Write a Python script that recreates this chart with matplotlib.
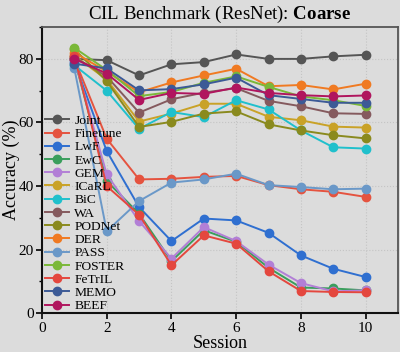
import matplotlib.pyplot as plt
from matplotlib.ticker import MultipleLocator

sessions = [1, 2, 3, 4, 5, 6, 7, 8, 9, 10]
methods = ['Joint', 'Finetune', 'LwF', 'EwC', 'GEM', 'ICaRL', 'BiC', 'WA',
           'PODNet', 'DER', 'PASS', 'FOSTER', 'FeTrIL', 'MEMO', 'BEEF']

joint    = [80.0, 79.6, 74.8, 78.3, 79.0, 81.4, 80.0, 80.0, 80.8, 81.3]
finetune = [80.0, 54.9, 42.1, 42.3, 42.9, 43.2, 40.3, 39.0, 38.2, 36.6]
lwf      = [79.0, 51.0, 33.4, 22.7, 29.8, 29.2, 25.3, 18.2, 14.0, 11.4]
ewc      = [80.0, 41.6, 31.3, 16.4, 26.1, 22.5, 14.3, 8.1, 7.8, 7.2]
gem      = [80.0, 43.7, 29.0, 17.2, 27.1, 22.7, 15.3, 9.5, 6.9, 7.2]
icarl    = [81.0, 73.5, 60.3, 62.8, 65.9, 65.9, 61.8, 60.7, 58.7, 58.4]
bic      = [78.0, 70.0, 58.0, 63.3, 61.7, 67.0, 64.1, 57.5, 52.2, 51.8]
wa       = [80.5, 74.5, 63.1, 67.3, 69.4, 70.8, 66.8, 65.1, 62.9, 62.7]
podnet   = [83.0, 73.0, 58.6, 60.2, 62.8, 63.5, 59.4, 57.5, 56.0, 55.0]
der      = [82.0, 76.0, 69.5, 72.6, 74.8, 76.9, 71.4, 71.8, 70.4, 72.2]
pass_    = [77.0, 25.8, 35.3, 41.1, 42.1, 43.9, 40.3, 39.7, 39.0, 39.2]
foster   = [83.5, 76.5, 68.3, 69.6, 72.5, 74.5, 71.2, 68.2, 67.0, 65.2]
fetril   = [81.0, 40.0, 31.0, 15.1, 24.5, 21.9, 13.2, 7.0, 6.7, 6.6]
memo     = [78.5, 77.0, 70.1, 70.5, 72.0, 74.1, 68.6, 67.4, 66.2, 66.2]
beef     = [80.0, 75.4, 67.1, 69.3, 69.0, 71.0, 69.3, 68.6, 68.2, 68.5]

values = [joint, finetune, lwf, ewc, gem, icarl, bic, wa, podnet, der,
          pass_, foster, fetril, memo, beef]
colors = ['#555555', '#e5533f', '#2f6fd0', '#3a9e5c', '#b27fd6', '#c9a227',
          '#20c0cc', '#855a5e', '#8a8a1e', '#f07a22', '#6a98c8', '#7ab838',
          '#e4473e', '#3c5a96', '#b0155e']

plt.rcParams['font.family'] = ['Liberation Serif', 'DejaVu Serif']
plt.rcParams['mathtext.fontset'] = 'custom'
plt.rcParams['mathtext.rm'] = 'Liberation Serif'
plt.rcParams['mathtext.bf'] = 'Liberation Serif:bold'
bg = '#dcdcdc'

fig, ax = plt.subplots(figsize=(4.0, 3.52), dpi=100)
fig.patch.set_facecolor(bg)
ax.set_facecolor(bg)

for name, vals, c in zip(methods, values, colors):
    ax.plot(sessions, vals, marker='o', markersize=6, linewidth=1.4,
            color=c, label=name)

ax.set_xlim(0, 11)
ax.set_ylim(0, 90)
ax.set_xticks([0, 2, 4, 6, 8, 10])
ax.set_yticks([0, 20, 40, 60, 80])
ax.yaxis.set_minor_locator(MultipleLocator(10))
ax.tick_params(axis='both', direction='out', labelsize=11, width=1.2,
               length=4, pad=2)
ax.tick_params(axis='y', which='minor', direction='out', length=2.5, width=1)
ax.grid(True, which='major', linestyle=':', color='#c4c4c4', linewidth=0.8)

for s in ['left', 'bottom']:
    ax.spines[s].set_color('#111111')
    ax.spines[s].set_linewidth(1.5)
for s in ['top', 'right']:
    ax.spines[s].set_color('#555555')
    ax.spines[s].set_linewidth(1.3)

ax.set_xlabel('Session', fontsize=13, labelpad=0)
ax.set_ylabel('Accuracy (%)', fontsize=13, labelpad=-1)
ax.set_title(r'CIL Benchmark (ResNet): $\mathbf{Coarse}$', fontsize=13.6, pad=6)

ax.legend(loc='lower left', bbox_to_anchor=(-0.015, -0.025), frameon=False,
          fontsize=9.7, labelspacing=0.06, handlelength=1.8, handletextpad=0.4,
          borderaxespad=0.2)

fig.subplots_adjust(left=0.105, right=0.995, top=0.923, bottom=0.11)
fig.savefig('out.png', dpi=100, facecolor=bg)
